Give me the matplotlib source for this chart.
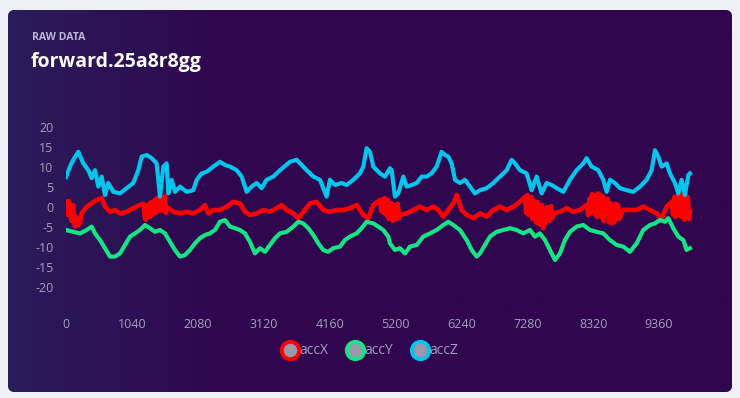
import numpy as np
import matplotlib
matplotlib.use("Agg")
import matplotlib.pyplot as plt
from matplotlib.patches import FancyBboxPatch
from matplotlib.lines import Line2D
from matplotlib.colors import LinearSegmentedColormap

# ---------------- data ----------------
title_small = "RAW DATA"
title_main = "forward.25a8r8gg"
series_names = ["accX", "accY", "accZ"]
x_ticks = [0, 1040, 2080, 3120, 4160, 5200, 6240, 7280, 8320, 9360]
y_ticks = [20, 15, 10, 5, 0, -5, -10, -15, -20]

accZ_t = [0, 63, 115, 194, 273, 352, 405, 457, 510, 563, 615, 668, 747, 852, 957,
          1062, 1141, 1194, 1273, 1352, 1430, 1483, 1536, 1588, 1615, 1667, 1720,
          1799, 1904, 2009, 2062, 2141, 2219, 2325, 2430, 2509, 2588, 2693, 2772,
          2851, 2930, 3008, 3087, 3166, 3271, 3377, 3534, 3640, 3719, 3797, 3903,
          4008, 4113, 4166, 4245, 4350, 4429, 4534, 4639, 4692, 4744, 4797, 4849,
          4955, 5034, 5112, 5139, 5192, 5244, 5323, 5376, 5455, 5534, 5613, 5691,
          5770, 5849, 5928, 5981, 6033, 6086, 6139, 6217, 6296, 6375, 6454, 6533,
          6638, 6743, 6849, 6954, 7033, 7085, 7164, 7269, 7348, 7427, 7506, 7585,
          7664, 7743, 7848, 7953, 8058, 8164, 8216, 8295, 8400, 8479, 8532, 8584,
          8663, 8742, 8847, 8953, 9058, 9163, 9242, 9295, 9347, 9400, 9479, 9531,
          9610, 9663, 9715, 9768, 9821, 9847]
accZ_v = [7.5, 10.1, 11.8, 13.8, 10.9, 9.2, 7.2, 9.2, 5.1, 7.6, 3.0, 6.0, 3.8, 3.4, 4.7,
          6.0, 9.2, 12.6, 13.0, 12.2, 10.9, 2.6, 10.1, 10.9, 3.4, 6.8, 3.8,
          5.1, 3.8, 4.2, 6.8, 8.4, 8.8, 10.1, 11.3, 10.5, 10.1, 9.2, 7.6,
          3.8, 5.1, 6.0, 4.7, 6.8, 7.6, 9.2, 11.3, 11.8, 10.5, 9.2, 7.6,
          6.8, 2.6, 6.8, 5.5, 6.0, 5.5, 6.8, 8.4, 10.1, 14.7, 13.8, 10.1,
          8.4, 7.6, 9.7, 9.2, 2.6, 3.4, 7.6, 5.1, 5.5, 6.0, 7.6, 7.6,
          8.4, 10.1, 13.8, 13.0, 12.6, 10.9, 6.8, 6.0, 6.8, 5.1, 3.4, 4.2,
          4.7, 6.0, 7.6, 9.2, 11.8, 10.9, 9.2, 8.4, 4.2, 7.6, 3.4, 6.0,
          5.5, 4.7, 3.8, 6.8, 9.2, 10.9, 12.2, 10.1, 9.2, 6.8, 3.8, 6.8,
          6.0, 4.7, 4.2, 3.8, 5.1, 6.8, 9.2, 14.2, 12.6, 10.1, 10.9, 8.4,
          6.0, 3.4, 6.8, 3.0, 8.0, 8.4]

accX_t = [0, 63, 142, 194, 247, 326, 405, 484, 563, 615, 694, 773, 852, 957, 1062,
          1167, 1246, 1299, 1378, 1457, 1536, 1588, 1693, 1799, 1904, 2009, 2114,
          2193, 2246, 2325, 2430, 2535, 2640, 2745, 2824, 2903, 3008, 3114, 3219,
          3324, 3403, 3482, 3587, 3666, 3745, 3850, 3955, 4060, 4166, 4271, 4376,
          4481, 4586, 4692, 4771, 4849, 4955, 5034, 5112, 5192, 5271, 5376, 5481,
          5586, 5691, 5797, 5876, 5954, 6033, 6112, 6165, 6244, 6323, 6428, 6533,
          6638, 6743, 6849, 6954, 7059, 7164, 7243, 7322, 7401, 7454, 7532, 7611,
          7690, 7795, 7900, 8006, 8111, 8216, 8321, 8427, 8532, 8611, 8690, 8795,
          8900, 9005, 9110, 9216, 9321, 9400, 9479, 9558, 9636, 9689, 9742, 9794,
          9847]
accX_v = [1.3, -0.75, -4.9, -4.5, -1.6, 0.1, 0.9, 1.75, 2.2, 0.1, -1.2, -0.75, -1.6, -1.2, -0.3,
          0.5, -2.8, -1.6, 0.1, 1.3, 2.2, 0.1, -1.2, -1.6, -1.2, -1.6, -0.75,
          0.5, -1.6, -0.75, -0.75, 0.1, 1.3, 0.9, -1.2, -2.0, -1.6, -0.75, -1.2,
          -0.3, 0.5, -0.75, -1.6, -2.8, -1.2, 0.9, 1.3, -0.75, -1.2, -0.75, -0.75,
          -0.3, 0.5, -2.0, -2.8, 0.5, 1.75, 2.2, -0.75, -0.3, -2.0, -1.6, -0.75,
          0.1, -0.75, 0.1, -0.75, -2.4, -0.75, 0.9, 3.0, -0.75, -2.0, -2.8, -1.6,
          -2.4, -0.75, 0.1, -0.75, 0.1, 1.3, 2.6, 1.3, -2.4, -4.1, -5.3, -2.4,
          -1.6, -1.2, -0.3, -1.2, -0.75, 0.5, 2.6, 3.0, -1.6, -4.1, -2.8, -0.75,
          -0.75, -0.75, 0.1, -0.75, -1.6, -2.8, 0.1, 1.3, 0.9, 3.0, 0.9, -1.6,
          -1.2]
# extra samples read in the noisy stretches of accX
accX_extra_t = [30, 45, 90, 110, 165, 220,
                1220, 1260, 1280, 1320, 1340, 1360, 1400, 1420, 1440, 1480, 1500, 1520, 1560, 1575,
                4975, 4995, 5015, 5055, 5075, 5095, 5135, 5155, 5175, 5215, 5235, 5255,
                7262, 7282, 7302, 7342, 7362, 7382, 7420, 7436, 7470, 7490, 7510, 7550, 7570,
                7590, 7630, 7650, 7670,
                8240, 8260, 8280, 8300, 8340, 8360, 8380, 8400, 8445, 8465, 8485, 8505, 8550,
                8570, 8590, 8630, 8650, 8670, 8710, 8730,
                9580, 9600, 9618, 9655, 9672, 9705, 9722, 9760, 9778, 9812, 9830]
accX_extra_v = [-2.0, 1.5, -3.5, 0.5, -2.5, -4.0,
                0.8, -3.2, 0.5, -2.5, 1.2, -2.0, 1.8, -1.5, 2.3, -1.0, 2.6, -0.8, 2.8, -1.5,
                -1.0, 2.0, -1.5, -2.0, 1.8, -3.0, 1.0, -3.5, 0.5, -3.0, 0.8, -2.8,
                -1.5, 3.0, -2.0, 2.5, -3.0, 1.5, -3.8, 1.2, -0.5, -4.5, 0.5, -1.0, -4.0,
                0.0, -3.5, 0.2, -2.8,
                -2.0, 2.0, -1.5, 3.2, -1.8, 3.0, -2.5, 3.4, -2.5, 2.8, -3.5, 2.0, 2.0,
                -3.8, 1.0, 0.5, -3.8, 0.8, 0.5, -3.0,
                -2.0, 2.5, -2.5, 3.0, -2.0, -2.5, 3.4, -3.2, 2.8, 2.5, -3.0]

accY_t = [0, 115, 221, 326, 405, 457, 536, 615, 694, 773, 852, 931, 1010, 1089, 1167,
          1246, 1325, 1404, 1483, 1562, 1641, 1720, 1799, 1878, 1956, 2035, 2114,
          2193, 2272, 2351, 2430, 2509, 2588, 2667, 2745, 2824, 2903, 2982, 3061,
          3140, 3219, 3298, 3377, 3482, 3587, 3666, 3745, 3824, 3903, 3982, 4060,
          4139, 4218, 4324, 4402, 4481, 4586, 4665, 4744, 4849, 4928, 5007, 5086,
          5113, 5192, 5271, 5350, 5428, 5534, 5639, 5744, 5849, 5954, 6033, 6112,
          6217, 6323, 6402, 6480, 6533, 6612, 6691, 6796, 6901, 7006, 7112, 7217,
          7322, 7401, 7480, 7559, 7638, 7717, 7795, 7874, 7953, 8058, 8164, 8269,
          8374, 8479, 8584, 8690, 8795, 8900, 9005, 9110, 9216, 9295, 9374, 9452,
          9505, 9584, 9663, 9742, 9794, 9847]
accY_v = [-5.75, -6.2, -6.6, -5.75, -4.9, -6.6, -8.25, -10.3, -12.4, -12.4, -11.6, -9.5, -7.4, -6.6, -5.75,
          -4.5, -5.3, -6.2, -5.75, -6.6, -8.7, -10.75, -12.4, -12.0, -10.75, -9.1, -7.8,
          -7.0, -6.6, -5.75, -3.7, -3.25, -4.9, -5.3, -5.75, -6.6, -8.7, -11.6, -10.3,
          -11.2, -9.5, -7.8, -6.6, -6.2, -4.9, -3.7, -4.1, -5.3, -7.0, -9.1, -10.75,
          -11.2, -10.3, -9.9, -8.25, -7.4, -6.6, -5.3, -3.7, -4.1, -4.9, -5.75, -7.4,
          -9.1, -10.75, -10.3, -11.6, -9.9, -9.5, -7.4, -6.6, -5.75, -4.5, -3.7, -4.5,
          -5.75, -8.25, -10.75, -12.4, -11.6, -9.5, -7.4, -6.2, -5.75, -5.3, -5.75, -6.6,
          -5.75, -7.4, -6.6, -8.25, -10.75, -13.25, -11.6, -8.25, -6.2, -4.9, -4.5, -5.75,
          -6.2, -6.6, -8.25, -9.5, -9.9, -11.2, -9.1, -5.75, -4.5, -4.1, -3.25, -3.7,
          -2.8, -5.3, -7.4, -8.25, -10.75, -10.3]

# ---------------- style ----------------
W, H = 740, 398
outer_bg = "#efeff6"
card_left = "#2a1c5a"
card_right = "#30064f"
tick_color = "#a59fc0"
colors = {"accX": "#ff0000", "accY": "#14e484", "accZ": "#00c6ee"}

fig = plt.figure(figsize=(W / 100, H / 100), dpi=100)
fig.patch.set_facecolor(outer_bg)

bg_ax = fig.add_axes([0, 0, 1, 1])
bg_ax.set_xlim(0, W)
bg_ax.set_ylim(H, 0)
bg_ax.axis("off")
card = FancyBboxPatch((8, 10), 724, 382, boxstyle="round,pad=0,rounding_size=7",
                      facecolor=card_right, edgecolor="none", transform=bg_ax.transData)
bg_ax.add_patch(card)
cmap = LinearSegmentedColormap.from_list("g", [(0, card_left), (0.3, card_right), (1, card_right)])
grad = np.linspace(0, 1, 256).reshape(1, -1)
im = bg_ax.imshow(grad, extent=(8, 732, 392, 10), cmap=cmap, aspect="auto", zorder=1)
im.set_clip_path(card)

fig.text(32 / W, 1 - 37 / H, title_small, color="#bdb5d6", fontsize=7.6,
         fontweight="bold", family="Open Sans", va="center", ha="left")
fig.text(31 / W, 1 - 62 / H, title_main, color="#ffffff", fontsize=14,
         fontweight="bold", family="Open Sans", va="center", ha="left")

ax = fig.add_axes([66 / W, 1 - 287 / H, 659 / W, 160 / H])
ax.set_facecolor("none")
for s in ax.spines.values():
    s.set_visible(False)

x_order = np.argsort(np.array(accX_t + accX_extra_t), kind="stable")
accX_all_t = np.array(accX_t + accX_extra_t)[x_order]
accX_all_v = np.array(accX_v + accX_extra_v)[x_order]

series = [("accX", accX_all_t, accX_all_v, 3.3),
          ("accY", accY_t, accY_v, 3.0),
          ("accZ", accZ_t, accZ_v, 3.0)]
for name, t, v, lw in series:
    ax.plot(t, v, color=colors[name], lw=lw, solid_joinstyle="round", zorder=3)

ax.set_xlim(0, 10400)
ax.set_ylim(-20, 20)
ax.set_xticks(x_ticks)
ax.set_xticklabels([str(x) for x in x_ticks])
ax.set_yticks(y_ticks)
ax.set_yticklabels([str(y) for y in y_ticks])
ax.tick_params(length=0, colors=tick_color, labelsize=9)
ax.tick_params(axis="x", pad=22)
ax.tick_params(axis="y", pad=9)
for lab in ax.get_xticklabels() + ax.get_yticklabels():
    lab.set_family("Open Sans")

handles = [Line2D([], [], ls="none", marker="o", markersize=12.5, markerfacecolor="#9c98ac",
                  markeredgecolor=colors[n], markeredgewidth=2.8) for n in series_names]
leg = fig.legend(handles, series_names, loc="center", bbox_to_anchor=(0.5, 1 - 351 / H),
                 ncol=3, frameon=False, handletextpad=0.1, columnspacing=1.3,
                 prop={"family": "Open Sans", "size": 10}, handlelength=1.2)
for txt in leg.get_texts():
    txt.set_color(tick_color)

fig.savefig("out.png", dpi=100, facecolor=outer_bg)
